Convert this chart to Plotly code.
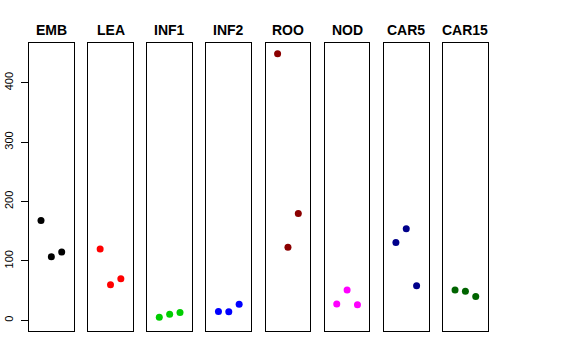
import plotly.graph_objects as go

W, H = 576, 360

tissues = ["EMB", "LEA", "INF1", "INF2", "ROO", "NOD", "CAR5", "CAR15"]
replicates = [1, 2, 3]
emb = [168, 107, 115]
lea = [120, 60, 70]
inf1 = [5, 10, 13]
inf2 = [15, 14.6, 27]
roo = [449, 123, 180]
nod = [27.5, 51, 26]
car5 = [131, 154, 58]
car15 = [51, 49, 40]
colors = ["#000000", "#FF0000", "#00CD00", "#0000FF", "#8B0000", "#FF00FF", "#00008B", "#006400"]
yticks = [0, 100, 200, 300, 400]

series = [emb, lea, inf1, inf2, roo, nod, car5, car15]

fig = go.Figure()

left0 = 29.0
pitch = 59.15
pw = 44.7
top_px, bot_px = 43.0, 331.0
ylo, yhi = -18.0, 467.0

for i, (name, vals, col) in enumerate(zip(tissues, series, colors)):
    n = i + 1
    xa = "x" if n == 1 else f"x{n}"
    ya = "y" if n == 1 else f"y{n}"
    l = left0 + i * pitch
    r = l + pw
    fig.add_trace(go.Scatter(
        x=replicates, y=vals, mode="markers",
        marker=dict(color=col, size=7),
        xaxis=xa, yaxis=ya, showlegend=False, hoverinfo="skip"))
    xkey = "xaxis" if n == 1 else f"xaxis{n}"
    ykey = "yaxis" if n == 1 else f"yaxis{n}"
    fig.layout[xkey] = dict(
        domain=[l / W, r / W], range=[-0.16, 4.16], anchor=ya,
        showgrid=False, zeroline=False, showticklabels=False, ticks="",
        showline=True, mirror=True, linecolor="#000000", linewidth=1,
        fixedrange=True, automargin=False)
    yd = dict(
        domain=[(H - bot_px) / H, (H - top_px) / H], range=[ylo, yhi], anchor=xa,
        showgrid=False, zeroline=False,
        showline=True, mirror=True, linecolor="#000000", linewidth=1,
        fixedrange=True, automargin=False)
    if n == 1:
        yd.update(tickmode="array", tickvals=yticks, ticktext=[str(t) for t in yticks],
                  ticks="outside", ticklen=7, tickcolor="#000000", tickwidth=1,
                  tickangle=-90, ticklabelstandoff=4,
                  tickfont=dict(family="Liberation Sans, Arial, sans-serif", size=11, color="#000000"))
    else:
        yd.update(showticklabels=False, ticks="")
    fig.layout[ykey] = yd
    fig.add_annotation(
        x=(l + r) / 2 / W, y=(H - 29.5) / H, xref="paper", yref="paper",
        text=f"<b>{name}</b>", showarrow=False, xanchor="center", yanchor="middle",
        font=dict(family="Liberation Sans, Arial, sans-serif", size=14, color="#000000"))

fig.update_layout(
    width=W, height=H, margin=dict(l=0, r=0, t=0, b=0, autoexpand=False),
    paper_bgcolor="white", plot_bgcolor="white")

fig.write_html("out.html", config={"displayModeBar": False, "staticPlot": True},
               post_script="document.body.style.margin='0';")
